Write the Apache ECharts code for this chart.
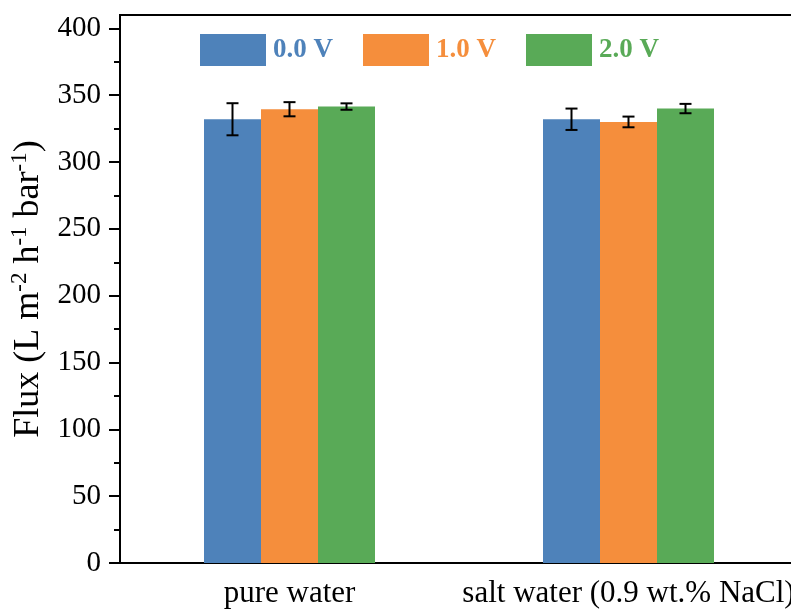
<!DOCTYPE html>
<html>
<head>
<meta charset="utf-8">
<title>Flux</title>
<script src="https://cdn.jsdelivr.net/npm/echarts@6/dist/echarts.min.js"></script>
<style>
  html, body { margin: 0; padding: 0; background: #fff; }
  #chart { width: 791px; height: 612px; }
</style>
</head>
<body>
<div id="chart"></div>
<script>
// Categories and series
const categories = ['pure water', 'salt water (0.9 wt.% NaCl)'];
const seriesNames = ['0.0 V', '1.0 V', '2.0 V'];
const seriesColors = ['#4E82BA', '#F58E3C', '#59AA57'];

// Flux (L m-2 h-1 bar-1) and standard deviations
const flux00 = [332, 332];
const err00 = [12, 8];
const flux10 = [339.5, 330];
const err10 = [5.3, 4];
const flux20 = [341.5, 340];
const err20 = [2.4, 3.5];

// Axis ticks
const yMajorTicks = [0, 50, 100, 150, 200, 250, 300, 350, 400];
const yMinorTicks = [25, 75, 125, 175, 225, 275, 325, 375];

const FONT = '"Liberation Serif", "Times New Roman", serif';
const BAR_W = 57;

const fluxes = [flux00, flux10, flux20];
const errs = [err00, err10, err20];

function errorBarRenderer(k) {
  return function (params, api) {
    const x = api.value(0);
    const v = api.value(1);
    const e = api.value(2);
    const top = api.coord([x, v + e]);
    const bot = api.coord([x, v - e]);
    const cx = top[0] + (k - 1) * BAR_W;
    const cap = 6;
    const style = { stroke: '#000', lineWidth: 2 };
    return {
      type: 'group',
      children: [
        { type: 'line', shape: { x1: cx, y1: top[1], x2: cx, y2: bot[1] }, style },
        { type: 'line', shape: { x1: cx - cap, y1: top[1], x2: cx + cap, y2: top[1] }, style },
        { type: 'line', shape: { x1: cx - cap, y1: bot[1], x2: cx + cap, y2: bot[1] }, style }
      ]
    };
  };
}

const barSeries = seriesNames.map((name, k) => ({
  name,
  type: 'bar',
  xAxisIndex: 0,
  yAxisIndex: 0,
  barWidth: BAR_W,
  barGap: '0%',
  itemStyle: { color: seriesColors[k] },
  data: fluxes[k]
}));

const errSeries = seriesNames.map((name, k) => ({
  type: 'custom',
  xAxisIndex: 0,
  yAxisIndex: 0,
  z: 5,
  renderItem: errorBarRenderer(k),
  data: categories.map((c, i) => [i, fluxes[k][i], errs[k][i]])
}));

const chart = echarts.init(document.getElementById('chart'), null, { renderer: 'canvas' });

chart.setOption({
  animation: false,
  backgroundColor: '#fff',
  textStyle: { fontFamily: FONT },
  grid: {
    left: 120, top: 15, width: 678, height: 548,
    containLabel: false,
    outerBoundsMode: 'none',
    show: true, borderColor: '#000', borderWidth: 2, backgroundColor: 'transparent'
  },
  legend: {
    data: seriesNames.map((n, k) => ({
      name: n,
      icon: 'rect',
      textStyle: { color: seriesColors[k] }
    })),
    left: 200,
    top: 34,
    padding: 0,
    itemWidth: 66,
    itemHeight: 32,
    itemGap: 30,
    selectedMode: false,
    textStyle: { fontFamily: FONT, fontSize: 27, fontWeight: 'bold', padding: [0, 0, 0, 2] }
  },
  xAxis: [
    {
      type: 'category',
      data: categories,
      position: 'bottom',
      axisLine: { lineStyle: { color: '#000', width: 2 } },
      axisTick: { alignWithLabel: true, length: 10, lineStyle: { color: '#000', width: 2 } },
      axisLabel: { color: '#000', fontFamily: FONT, fontSize: 31, margin: 15, interval: 0, hideOverlap: false },
      splitLine: { show: false }
    },
    {
      type: 'category',
      data: categories,
      position: 'bottom',
      axisLine: { show: false },
      axisTick: { length: 6, lineStyle: { color: '#000', width: 2 } },
      axisLabel: { show: false },
      splitLine: { show: false }
    }
  ],
  yAxis: [
    {
      type: 'value',
      min: 0,
      max: 410,
      interval: 50,
      position: 'left',
      name: '{a|Flux (L m}{s|-2}{a| h}{s|-1}{a| bar}{s|-1}{a|)}',
      nameLocation: 'middle',
      nameRotate: 90,
      nameGap: 70,
      nameTextStyle: {
        rich: {
          a: { fontFamily: FONT, fontSize: 36, color: '#000' },
          s: { fontFamily: FONT, fontSize: 23, color: '#000', padding: [0, 0, 18, 0] }
        }
      },
      axisLine: { show: true, lineStyle: { color: '#000', width: 2 } },
      axisTick: { show: true, length: 11, customValues: yMajorTicks, lineStyle: { color: '#000', width: 2 } },
      axisLabel: { color: '#000', fontFamily: FONT, fontSize: 29, margin: 19, customValues: yMajorTicks },
      splitLine: { show: false }
    },
    {
      type: 'value',
      min: 0,
      max: 410,
      interval: 50,
      position: 'left',
      axisLine: { show: false },
      axisTick: { show: true, length: 6, customValues: yMinorTicks, lineStyle: { color: '#000', width: 2 } },
      axisLabel: { show: false },
      splitLine: { show: false }
    }
  ],
  series: barSeries.concat(errSeries)
});
</script>
</body>
</html>
